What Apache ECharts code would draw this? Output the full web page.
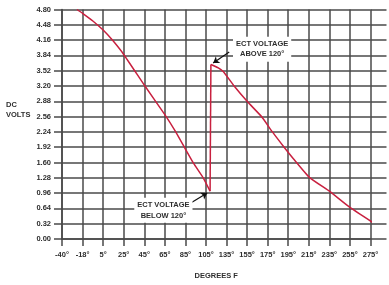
<!DOCTYPE html>
<html>
<head>
<meta charset="utf-8">
<script src="https://cdn.jsdelivr.net/npm/echarts@6/dist/echarts.min.js"></script>
<style>
html, body { margin: 0; padding: 0; background: #fff; }
#chart { width: 389px; height: 285px; }
</style>
</head>
<body>
<div id="chart"></div>
<script>
// x axis is evenly spaced by label, so points are placed by label index
const xTicks = ['-40°', '-18°', '5°', '25°', '45°', '65°', '85°', '105°',
    '135°', '155°', '175°', '195°', '215°', '235°', '255°', '275°'];

// below 120° branch
const belowIdx = [0.73, 1.0, 1.5, 2.0, 2.45, 3.0, 4.0, 5.0, 5.5, 6.0, 6.4, 6.88, 7.2];
const belowVolts = [4.80, 4.72, 4.56, 4.37, 4.16, 3.86, 3.22, 2.60, 2.26, 1.88, 1.58, 1.27, 1.00];

// the jump at the switch-over
const jumpIdx = [7.2, 7.24];
const jumpVolts = [1.00, 3.65];

// above 120° branch
const aboveIdx = [7.24, 7.6, 7.85, 8.37, 9.0, 9.7, 10.23, 10.8, 11.25, 12.03, 13.03, 14.0, 15.2];
const aboveVolts = [3.65, 3.58, 3.50, 3.20, 2.88, 2.56, 2.24, 1.92, 1.68, 1.29, 0.99, 0.66, 0.32];

const toPairs = (xs, ys) => xs.map((x, i) => [x, ys[i]]);

const font = 'Liberation Sans, Arial, sans-serif';
const gridColor = '#4a4a4a';
const red = '#c8203f';
const textStyle = { fontFamily: font, fontWeight: 'bold', fontSize: 7.5, color: '#2e2e2e' };

var myChart = echarts.init(document.getElementById('chart'));
let option = {
    animation: false,
    grid: { left: 62, right: 18.5, top: 9.5, bottom: 44 },
    xAxis: {
        type: 'value',
        min: 0,
        max: 15,
        interval: 1,
        name: 'DEGREES F',
        nameLocation: 'middle',
        nameGap: 33,
        nameTextStyle: textStyle,
        axisLine: { show: true, lineStyle: { color: gridColor, width: 1.5 } },
        axisTick: { show: true, length: 7, lineStyle: { color: gridColor, width: 1.5 } },
        axisLabel: Object.assign({ margin: 12, formatter: v => xTicks[v] || '' }, textStyle),
        splitLine: { show: true, lineStyle: { color: gridColor, width: 1.5 } }
    },
    yAxis: [{
        type: 'value',
        min: 0,
        max: 4.8,
        interval: 0.32,
        axisLine: { show: true, lineStyle: { color: gridColor, width: 1.5 } },
        axisTick: { show: true, length: 8, lineStyle: { color: gridColor, width: 1.5 } },
        axisLabel: Object.assign({ margin: 11, formatter: v => v.toFixed(2) }, textStyle),
        splitLine: { show: true, lineStyle: { color: gridColor, width: 1.5 } }
    }, {
        // only draws the short extensions of the grid lines on the right
        type: 'value',
        position: 'right',
        min: 0,
        max: 4.8,
        interval: 0.32,
        axisLine: { show: false },
        axisTick: { show: true, length: 16, lineStyle: { color: gridColor, width: 1.5 } },
        axisLabel: { show: false },
        splitLine: { show: false }
    }],
    graphic: [{
        type: 'text',
        left: 6,
        top: 100,
        style: {
            text: 'DC\nVOLTS',
            x: 14,
            align: 'center',
            fontFamily: font, fontWeight: 'bold', fontSize: 7.5, fill: '#2e2e2e',
            lineHeight: 10
        }
    }],
    series: [{
        type: 'line',
        data: toPairs(belowIdx, belowVolts),
        showSymbol: false,
        smooth: 0.15,
        lineStyle: { color: red, width: 1.5 },
        markLine: {
            silent: true,
            symbol: ['none', 'arrow'],
            symbolSize: 6,
            label: { show: false },
            lineStyle: { color: '#111', width: 1.2, type: 'solid' },
            data: [
                [{ coord: [8.13, 3.91] }, { coord: [7.35, 3.68] }],
                [{ coord: [6.24, 0.75] }, { coord: [7.06, 0.96] }]
            ]
        },
        markPoint: {
            silent: true,
            symbol: 'rect',
            symbolSize: 0,
            label: Object.assign({
                show: true,
                position: 'inside',
                formatter: '{b}',
                lineHeight: 10.5,
                backgroundColor: '#fff',
                padding: [2, 3]
            }, textStyle),
            data: [
                { name: 'ECT VOLTAGE\nABOVE 120°', coord: [9.73, 3.97] },
                { name: 'ECT VOLTAGE\nBELOW 120°', coord: [4.93, 0.60] }
            ]
        }
    }, {
        type: 'line',
        data: toPairs(jumpIdx, jumpVolts),
        showSymbol: false,
        lineStyle: { color: red, width: 1.5 }
    }, {
        type: 'line',
        data: toPairs(aboveIdx, aboveVolts),
        showSymbol: false,
        clip: false,
        smooth: 0.15,
        lineStyle: { color: red, width: 1.5 }
    }]
};
myChart.setOption(option);
</script>
</body>
</html>
